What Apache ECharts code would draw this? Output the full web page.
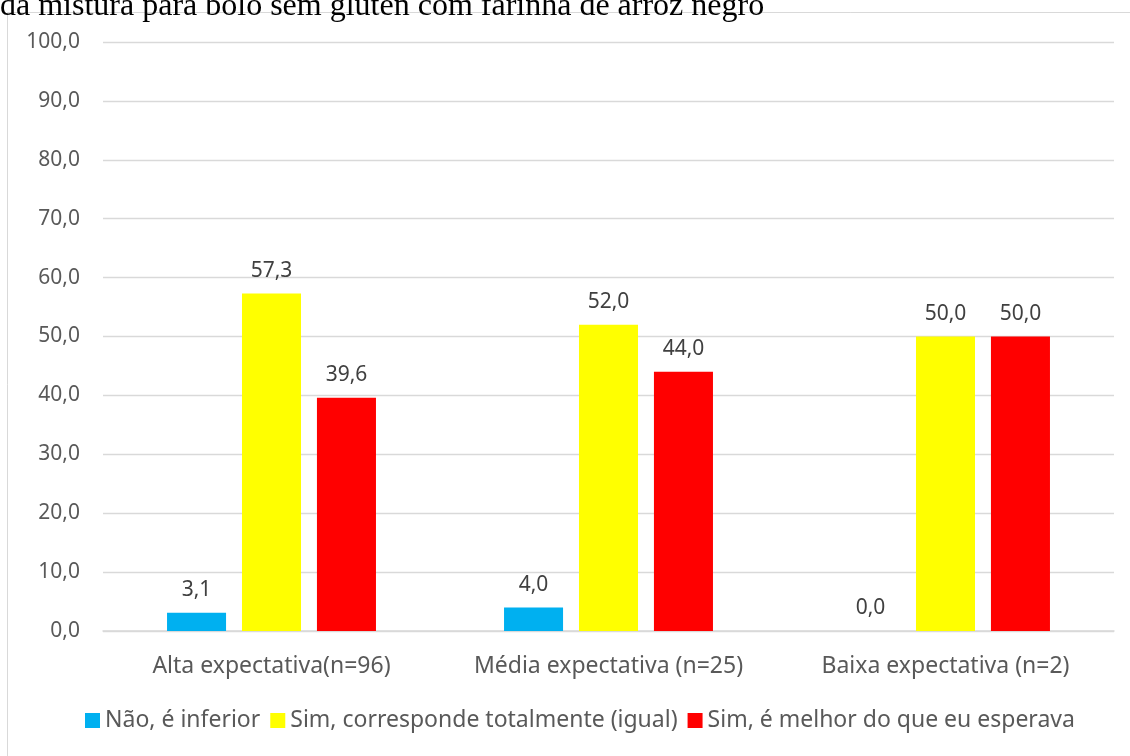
<!DOCTYPE html>
<html>
<head>
<meta charset="utf-8">
<script src="https://cdn.jsdelivr.net/npm/echarts@6/dist/echarts.min.js"></script>
<style>
  html, body { margin: 0; padding: 0; background: #fff; }
  #chart { width: 1130px; height: 756px; }
</style>
</head>
<body>
<div id="chart"></div>
<script>
const categories = ['Alta expectativa(n=96)', 'Média expectativa (n=25)', 'Baixa expectativa (n=2)']
const seriesNames = ['Não, é inferior', 'Sim, corresponde totalmente (igual)', 'Sim, é melhor do que eu esperava']
const naoInferior = [3.1, 4.0, 0.0]
const simIgual = [57.3, 52.0, 50.0]
const simMelhor = [39.6, 44.0, 50.0]
const colors = ['#00b0f0', '#ffff00', '#ff0000']

const font = 'Noto Sans'
const fmt = v => v.toFixed(1).replace('.', ',')

const chart = echarts.init(document.getElementById('chart'))

function makeSeries(name, data, color) {
  return {
    name: name,
    type: 'bar',
    data: data,
    barGap: '27%',
    barCategoryGap: '38%',
    itemStyle: { color: color },
    label: {
      show: true,
      position: 'top',
      distance: 12,
      color: '#404040',
      fontFamily: font,
      fontSize: 21,
      formatter: p => fmt(p.value)
    }
  }
}

chart.setOption({
  animation: false,
  textStyle: { fontFamily: font },
  graphic: [
    {
      type: 'rect',
      shape: { x: 7.5, y: 12.5, width: 1140, height: 760 },
      style: { fill: 'none', stroke: '#d9d9d9', lineWidth: 1 },
      z: -1
    },
    {
      type: 'text',
      x: 0,
      y: 23,
      style: {
        text: 'da mistura para bolo sem glúten com farinha de arroz negro',
        fill: '#000',
        font: '32px "Liberation Serif"',
        verticalAlign: 'bottom'
      }
    }
  ],
  grid: { left: 103, right: 16, top: 42, bottom: 125 },
  legend: {
    bottom: 19,
    left: 80,
    itemWidth: 15,
    itemHeight: 15,
    itemGap: 10,
    icon: 'rect',
    textStyle: { color: '#595959', fontSize: 23, fontFamily: font },
    data: seriesNames
  },
  xAxis: {
    type: 'category',
    data: categories,
    axisLine: { lineStyle: { color: '#d9d9d9', width: 1.5 } },
    axisTick: { show: false },
    axisLabel: { color: '#595959', fontSize: 23, fontFamily: font, margin: 24, interval: 0, hideOverlap: false }
  },
  yAxis: {
    type: 'value',
    min: 0,
    max: 100,
    interval: 10,
    axisLine: { show: false },
    axisTick: { show: false },
    splitLine: { lineStyle: { color: '#d9d9d9', width: 1.3 } },
    axisLabel: {
      color: '#595959',
      fontSize: 21,
      fontFamily: font,
      margin: 23,
      formatter: v => fmt(v)
    }
  },
  series: [
    makeSeries(seriesNames[0], naoInferior, colors[0]),
    makeSeries(seriesNames[1], simIgual, colors[1]),
    makeSeries(seriesNames[2], simMelhor, colors[2])
  ]
})
</script>
</body>
</html>
